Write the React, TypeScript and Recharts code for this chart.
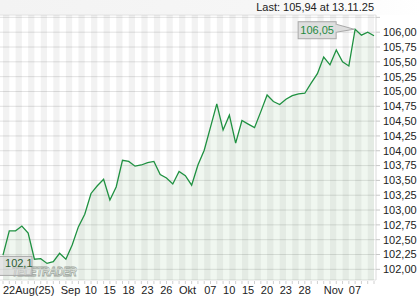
import React from "react";
import {
  AreaChart,
  Area,
  XAxis,
  YAxis,
  CartesianGrid,
  ReferenceArea,
} from "recharts";

const dates = [
  "2025-08-22",
  "2025-08-25", "2025-08-26", "2025-08-27", "2025-08-28", "2025-08-29",
  "2025-09-01", "2025-09-02", "2025-09-03", "2025-09-04", "2025-09-05",
  "2025-09-08", "2025-09-09", "2025-09-10", "2025-09-11", "2025-09-12",
  "2025-09-15", "2025-09-16", "2025-09-17", "2025-09-18", "2025-09-19",
  "2025-09-22", "2025-09-23", "2025-09-24", "2025-09-25", "2025-09-26",
  "2025-09-29", "2025-09-30", "2025-10-01", "2025-10-02", "2025-10-03",
  "2025-10-06", "2025-10-07", "2025-10-08", "2025-10-09", "2025-10-10",
  "2025-10-13", "2025-10-14", "2025-10-15", "2025-10-16", "2025-10-17",
  "2025-10-20", "2025-10-21", "2025-10-22", "2025-10-23", "2025-10-24",
  "2025-10-27", "2025-10-28", "2025-10-29", "2025-10-30", "2025-10-31",
  "2025-11-03", "2025-11-04", "2025-11-05", "2025-11-06", "2025-11-07",
  "2025-11-10", "2025-11-11", "2025-11-12", "2025-11-13",
];

const closes = [
  102.24,
  102.65, 102.65, 102.73, 102.61, 102.17,
  102.18, 102.1, 102.13, 102.27, 102.17,
  102.41, 102.72, 102.93, 103.28, 103.41,
  103.52, 103.17, 103.39, 103.84, 103.82,
  103.74, 103.76, 103.8, 103.82, 103.6,
  103.54, 103.44, 103.65, 103.58, 103.42,
  103.76, 104.01, 104.4, 104.79, 104.35,
  104.6, 104.13, 104.51, 104.45, 104.39,
  104.66, 104.94, 104.83, 104.78, 104.87,
  104.93, 104.96, 104.97, 105.14, 105.3,
  105.58, 105.45, 105.7, 105.5, 105.43,
  106.05, 105.95, 106.0, 105.94,
];

const tickDates = [
  "2025-08-22", "2025-09-01", "2025-09-10", "2025-09-15", "2025-09-18",
  "2025-09-23", "2025-09-26", "2025-10-01", "2025-10-07", "2025-10-10",
  "2025-10-15", "2025-10-20", "2025-10-23", "2025-10-28", "2025-11-03",
  "2025-11-07",
];
const tickLabels = [
  "22Aug(25)", "Sep", "10", "15", "18", "23", "26", "Okt", "07", "10",
  "15", "20", "23", "28", "Nov", "07",
];

const yTicks = [
  102.0, 102.25, 102.5, 102.75, 103.0, 103.25, 103.5, 103.75, 104.0,
  104.25, 104.5, 104.75, 105.0, 105.25, 105.5, 105.75, 106.0, 106.25,
];
const yLabelMax = 106.0;

const lastText = "Last: 105,94 at 13.11.25";
const watermark = "TELETRADER";

const data = dates.map((d, i) => ({ date: d, close: closes[i] }));

const maxVal = Math.max(...closes);
const minVal = Math.min(...closes);

const fmt = (v: number, digits: number) => v.toFixed(digits).replace(".", ",");

const FONT = "'Liberation Sans', Arial, sans-serif";

const XTick = (props: any) => {
  const { x, y, payload } = props;
  const idx = tickDates.indexOf(payload.value);
  const label = idx >= 0 ? tickLabels[idx] : null;
  // first month label is pushed right so that it clears the starting label
  const shift = idx === 1 ? 20 : 0;
  return (
    <g>
      <line x1={x} x2={x} y1={y + 1} y2={y + 4} stroke="#d0d0d0" strokeWidth={1} />
      {label !== null && (
        <text
          x={x + shift}
          y={y + 14}
          textAnchor="start"
          fontSize={11}
          fontFamily={FONT}
          fill="#222"
        >
          {label}
        </text>
      )}
    </g>
  );
};

const ExtremeLabel = (props: any) => {
  const { x, y, value } = props;
  if (value === maxVal) {
    const bx = x - 57;
    const by = y - 7.5;
    const bw = 38;
    const bh = 17;
    return (
      <g>
        <polygon
          points={`${bx + bw},${y - 5} ${x - 1},${y} ${bx + bw},${y + 3}`}
          fill="#dedede"
          stroke="#a8a8a8"
          strokeWidth={1}
        />
        <rect x={bx} y={by} width={bw} height={bh} fill="#dedede" stroke="#a8a8a8" strokeWidth={1} />
        <rect x={bx + bw - 1} y={y - 4.5} width={2} height={7} fill="#dedede" />
        <text
          x={bx + bw / 2}
          y={by + 12.5}
          textAnchor="middle"
          fontSize={11}
          fontFamily={FONT}
          fill="#1f8a3f"
        >
          {fmt(value, 2)}
        </text>
      </g>
    );
  }
  if (value === minVal) {
    const bx = x - 48;
    const by = y - 7;
    return (
      <g>
        <rect
          x={bx}
          y={by}
          width={33}
          height={19}
          fill="#d4d4d4"
          fillOpacity={0.6}
          stroke="#a8a8a8"
          strokeWidth={1}
        />
        <text
          x={bx + 6}
          y={by + 11}
          textAnchor="start"
          fontSize={11}
          fontFamily={FONT}
          fill="#2d5e33"
        >
          {fmt(value, 1)}
        </text>
      </g>
    );
  }
  return null;
};

export default function App() {
  const stripes = [];
  for (let i = 0; i + 1 < dates.length; i += 2) {
    stripes.push(
      <ReferenceArea
        key={dates[i]}
        x1={dates[i]}
        x2={dates[i + 1]}
        fill="#000"
        fillOpacity={0.05}
        stroke="none"
        ifOverflow="visible"
      />
    );
  }
  return (
    <div
      style={{
        position: "absolute",
        left: 0,
        top: 0,
        width: 420,
        height: 300,
        background: "#fff",
        overflow: "hidden",
      }}
    >
      <div
        style={{
          position: "absolute",
          left: 0,
          top: 0,
          width: 420,
          height: 15,
          background: "linear-gradient(to right, #f3f3f3 0%, #f6f6f6 60%, #ffffff 100%)",
        }}
      />
      <div
        style={{
          position: "absolute",
          left: 12,
          top: 266,
          fontSize: 12,
          lineHeight: "12px",
          fontWeight: "bold",
          fontStyle: "italic",
          fontFamily: FONT,
          color: "#ffffff",
          WebkitTextStroke: "0.8px #aaaaaa",
          letterSpacing: "-0.2px",
          whiteSpace: "nowrap",
          transform: "scaleX(0.82)",
          transformOrigin: "left top",
        }}
      >
        {watermark}
      </div>
      <AreaChart
        width={420}
        height={300}
        data={data}
        margin={{ top: 15, right: 0, bottom: 0, left: 0 }}
        style={{ position: "absolute", left: 0, top: 0 }}
      >
        <CartesianGrid vertical={false} stroke="#e2e2e2" strokeWidth={1} />
        {stripes}
        <XAxis
          dataKey="date"
          type="category"
          interval={0}
          height={20}
          padding={{ left: 3, right: 2 }}
          tickSize={0}
          tickMargin={0}
          tickLine={false}
          axisLine={false}
          tick={<XTick />}
        />
        <YAxis
          orientation="right"
          width={44}
          domain={[101.82, 106.29]}
          ticks={yTicks}
          interval={0}
          allowDataOverflow
          tickSize={4}
          tickMargin={3}
          tickLine={{ stroke: "#c8c8c8" }}
          axisLine={{ stroke: "#dadada" }}
          tickFormatter={(v: number) => (v > yLabelMax ? "" : fmt(v, 2))}
          tick={{ fontSize: 11, fontFamily: FONT, fill: "#222", textAnchor: "start" }}
        />
        <Area
          type="linear"
          dataKey="close"
          stroke="#1f9141"
          strokeWidth={1.3}
          fill="#3a9a3a"
          fillOpacity={0.075}
          dot={false}
          activeDot={false}
          isAnimationActive={false}
          label={<ExtremeLabel />}
        />
      </AreaChart>
      <div
        style={{
          position: "absolute",
          right: 46,
          top: 0,
          height: 15,
          lineHeight: "15px",
          fontSize: 11,
          fontFamily: FONT,
          color: "#222",
          whiteSpace: "nowrap",
        }}
      >
        {lastText}
      </div>
    </div>
  );
}
